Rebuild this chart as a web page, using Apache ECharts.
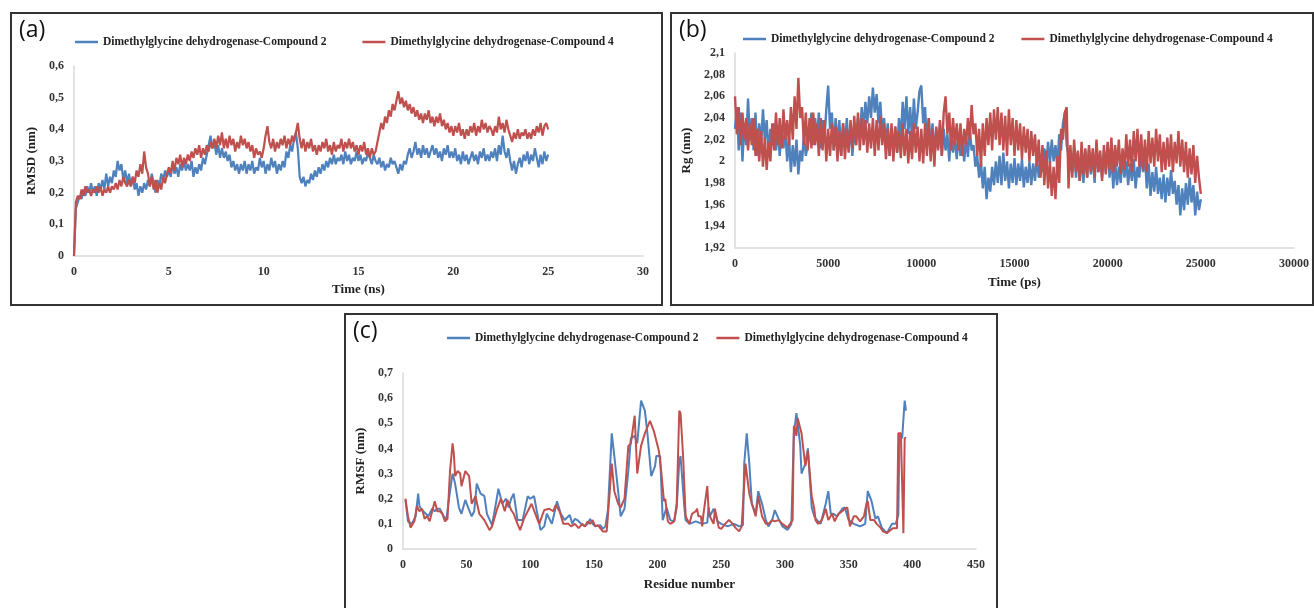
<!DOCTYPE html>
<html>
<head>
<meta charset="utf-8">
<script src="https://cdn.jsdelivr.net/npm/echarts@6/dist/echarts.min.js"></script>
<style>
body{margin:0;background:#fff;overflow:hidden;}
.panel{position:absolute;border:2px solid #333;box-sizing:border-box;background:#fff;}
#pa{left:10px;top:12px;width:653px;height:294px;}
#pb{left:670px;top:12px;width:644px;height:294px;}
#pc{left:344px;top:313px;width:654px;height:300px;}
</style>
</head>
<body>
<div id="pa" class="panel"></div>
<div id="pb" class="panel"></div>
<div id="pc" class="panel"></div>
<script>
var NAME2 = 'Dimethylglycine dehydrogenase-Compound 2';
var NAME4 = 'Dimethylglycine dehydrogenase-Compound 4';
var BLUE = '#4F81BD', RED = '#C0504D';

// (a) RMSD, one value every 0.1 ns from 0 to 25 ns
var rmsd2 = [
  0, 0.15, 0.17, 0.19, 0.18, 0.21, 0.19, 0.22, 0.20, 0.23,
  0.20, 0.22, 0.19, 0.23, 0.21, 0.24, 0.21, 0.26, 0.22, 0.25,
  0.23, 0.27, 0.25, 0.30, 0.27, 0.29, 0.24, 0.27, 0.23, 0.26,
  0.22, 0.25, 0.21, 0.23, 0.19, 0.22, 0.20, 0.23, 0.21, 0.24,
  0.22, 0.26, 0.23, 0.20, 0.24, 0.22, 0.26, 0.24, 0.27, 0.25,
  0.27, 0.25, 0.29, 0.26, 0.28, 0.25, 0.29, 0.27, 0.30, 0.27,
  0.29, 0.27, 0.30, 0.25, 0.28, 0.26, 0.29, 0.27, 0.31, 0.29,
  0.32, 0.35, 0.38, 0.34, 0.36, 0.32, 0.35, 0.31, 0.34, 0.31,
  0.33, 0.30, 0.32, 0.28, 0.30, 0.27, 0.29, 0.26, 0.29, 0.27,
  0.30, 0.26, 0.29, 0.27, 0.30, 0.26, 0.28, 0.27, 0.31, 0.28,
  0.30, 0.26, 0.29, 0.27, 0.31, 0.28, 0.30, 0.26, 0.29, 0.27,
  0.30, 0.28, 0.33, 0.31, 0.35, 0.33, 0.37, 0.39, 0.34, 0.25,
  0.23, 0.25, 0.22, 0.24, 0.23, 0.26, 0.24, 0.27, 0.25, 0.28,
  0.26, 0.29, 0.27, 0.30, 0.28, 0.31, 0.29, 0.32, 0.29, 0.31,
  0.30, 0.32, 0.29, 0.33, 0.30, 0.32, 0.29, 0.31, 0.30, 0.33,
  0.30, 0.32, 0.29, 0.31, 0.30, 0.33, 0.31, 0.29, 0.32, 0.30,
  0.29, 0.31, 0.28, 0.30, 0.27, 0.29, 0.28, 0.31, 0.29, 0.30,
  0.28, 0.26, 0.29, 0.27, 0.30, 0.29, 0.32, 0.34, 0.31, 0.33,
  0.36, 0.32, 0.34, 0.31, 0.35, 0.32, 0.34, 0.31, 0.33, 0.35,
  0.32, 0.34, 0.31, 0.33, 0.30, 0.34, 0.32, 0.35, 0.31, 0.33,
  0.31, 0.34, 0.30, 0.32, 0.29, 0.33, 0.30, 0.32, 0.29, 0.31,
  0.33, 0.30, 0.32, 0.29, 0.33, 0.31, 0.34, 0.30, 0.32, 0.30,
  0.33, 0.31, 0.34, 0.30, 0.35, 0.32, 0.38, 0.33, 0.31, 0.34,
  0.30, 0.27, 0.30, 0.26, 0.29, 0.31, 0.28, 0.32, 0.30, 0.33,
  0.29, 0.32, 0.30, 0.34, 0.31, 0.28, 0.32, 0.29, 0.33, 0.30,
  0.32
];
var rmsd4 = [
  0, 0.17, 0.19, 0.18, 0.21, 0.19, 0.22, 0.20, 0.21, 0.19,
  0.21, 0.20, 0.22, 0.20, 0.22, 0.19, 0.21, 0.20, 0.22, 0.20,
  0.22, 0.21, 0.23, 0.21, 0.24, 0.22, 0.25, 0.23, 0.22, 0.24,
  0.22, 0.25, 0.23, 0.27, 0.25, 0.29, 0.26, 0.33, 0.28, 0.26,
  0.22, 0.25, 0.21, 0.24, 0.20, 0.23, 0.21, 0.25, 0.23, 0.26,
  0.28, 0.26, 0.30, 0.27, 0.31, 0.29, 0.32, 0.28, 0.31, 0.29,
  0.32, 0.30, 0.33, 0.31, 0.34, 0.32, 0.35, 0.31, 0.34, 0.32,
  0.35, 0.33, 0.36, 0.34, 0.37, 0.34, 0.38, 0.35, 0.39, 0.34,
  0.37, 0.34, 0.38, 0.35, 0.37, 0.33, 0.36, 0.34, 0.38, 0.35,
  0.37, 0.34, 0.36, 0.33, 0.35, 0.31, 0.34, 0.32, 0.33, 0.31,
  0.34, 0.38, 0.41, 0.36, 0.34, 0.37, 0.33, 0.36, 0.34, 0.37,
  0.35, 0.38, 0.34, 0.37, 0.35, 0.38, 0.36, 0.39, 0.42, 0.37,
  0.34, 0.37, 0.33, 0.36, 0.34, 0.37, 0.33, 0.35, 0.32, 0.35,
  0.33, 0.36, 0.34, 0.37, 0.33, 0.35, 0.32, 0.36, 0.33, 0.35,
  0.34, 0.37, 0.33, 0.36, 0.34, 0.37, 0.34, 0.36, 0.33, 0.35,
  0.32, 0.35, 0.33, 0.36, 0.32, 0.34, 0.31, 0.34, 0.32, 0.33,
  0.36, 0.39, 0.42, 0.40, 0.44, 0.42, 0.46, 0.44, 0.48, 0.46,
  0.49, 0.52, 0.48, 0.50, 0.47, 0.49, 0.46, 0.48, 0.45, 0.47,
  0.44, 0.46, 0.43, 0.45, 0.42, 0.45, 0.43, 0.46, 0.42, 0.44,
  0.41, 0.44, 0.42, 0.45, 0.41, 0.43, 0.40, 0.42, 0.39, 0.41,
  0.38, 0.41, 0.39, 0.42, 0.38, 0.40, 0.37, 0.40, 0.38, 0.41,
  0.39, 0.42, 0.38, 0.41, 0.39, 0.43, 0.40, 0.42, 0.39, 0.41,
  0.40, 0.38, 0.41, 0.39, 0.44, 0.40, 0.42, 0.39, 0.43, 0.40,
  0.38, 0.36, 0.39, 0.37, 0.40, 0.37, 0.39, 0.38, 0.40, 0.37,
  0.39, 0.37, 0.40, 0.38, 0.41, 0.39, 0.42, 0.38, 0.41, 0.42,
  0.40
];

// (b) Rg, one value every 100 ps from 0 to 25000 ps
var rg2 = [
  2.030, 2.050, 2.010, 2.045, 2.000, 2.035, 2.015, 2.058, 2.020, 2.040,
  2.010, 2.045, 2.005, 2.035, 2.015, 2.048, 2.020, 2.038, 2.005, 2.030,
  2.015, 2.035, 2.010, 2.030, 2.005, 2.032, 2.012, 2.028, 2.000, 2.022,
  1.990, 2.015, 1.995, 2.020, 1.988, 2.010, 2.000, 2.025, 2.005, 2.015,
  2.025, 2.045, 2.015, 2.040, 2.020, 2.045, 2.012, 2.038, 2.020, 2.048,
  2.070, 2.030, 2.045, 2.010, 2.040, 2.015, 2.038, 2.005, 2.035, 2.012,
  2.040, 2.010, 2.035, 2.005, 2.030, 2.015, 2.040, 2.020, 2.050, 2.030,
  2.055, 2.035, 2.060, 2.040, 2.068, 2.045, 2.062, 2.035, 2.055, 2.025,
  2.040, 2.015, 2.035, 2.005, 2.030, 2.010, 2.032, 2.008, 2.040, 2.020,
  2.055, 2.030, 2.060, 2.025, 2.050, 2.020, 2.058, 2.030, 2.045, 2.065,
  2.070, 2.035, 2.050, 2.015, 2.040, 2.010, 2.035, 2.005, 2.030, 2.012,
  2.035, 2.005, 2.030, 2.010, 2.025, 2.000, 2.028, 2.008, 2.022, 2.002,
  2.025, 2.005, 2.020, 2.000, 2.022, 2.004, 2.030, 2.010, 2.015, 1.995,
  2.005, 1.985, 2.000, 1.975, 1.995, 1.965, 1.985, 1.972, 1.995, 1.978,
  2.000, 1.980, 2.005, 1.978, 2.008, 1.982, 2.000, 1.975, 1.998, 1.980,
  2.003, 1.978, 1.998, 1.982, 2.002, 1.976, 1.995, 1.980, 2.000, 1.978,
  1.998, 1.982, 2.004, 1.985, 2.000, 1.990, 2.012, 1.995, 2.018, 1.998,
  2.020, 2.000, 2.015, 1.995, 2.025, 2.010, 2.035, 2.045, 2.015, 2.005,
  2.010, 1.990, 2.012, 1.985, 2.008, 1.982, 2.005, 1.980, 2.010, 1.985,
  2.012, 1.988, 2.008, 1.980, 2.015, 1.990, 2.005, 1.985, 2.010, 1.990,
  2.015, 1.985, 2.005, 1.975, 2.000, 1.978, 1.995, 1.980, 2.005, 1.985,
  2.000, 1.978, 1.998, 1.982, 2.002, 1.975, 1.995, 1.985, 2.010, 1.990,
  2.005, 1.975, 1.998, 1.968, 1.990, 1.972, 1.995, 1.970, 1.985, 1.965,
  1.988, 1.962, 1.985, 1.968, 1.992, 1.970, 1.982, 1.960, 1.978, 1.950,
  1.975, 1.955, 1.980, 1.960, 1.985, 1.962, 1.978, 1.950, 1.972, 1.955,
  1.965
];
var rg4 = [
  2.060, 2.025, 2.050, 2.015, 2.045, 2.020, 2.040, 2.010, 2.035, 2.015,
  2.040, 2.005, 2.030, 2.000, 2.028, 1.995, 2.022, 1.992, 2.018, 2.000,
  2.035, 2.010, 2.045, 2.015, 2.040, 2.012, 2.048, 2.020, 2.038, 2.015,
  2.050, 2.020, 2.060, 2.030, 2.077, 2.040, 2.050, 2.015, 2.045, 2.010,
  2.040, 2.012, 2.045, 2.015, 2.035, 2.005, 2.040, 2.010, 2.038, 2.000,
  2.030, 2.005, 2.035, 2.010, 2.032, 2.000, 2.028, 2.005, 2.035, 2.002,
  2.030, 2.008, 2.038, 2.012, 2.042, 2.015, 2.045, 2.010, 2.040, 2.015,
  2.038, 2.008, 2.035, 2.012, 2.040, 2.005, 2.038, 2.010, 2.042, 2.015,
  2.035, 2.002, 2.030, 2.005, 2.035, 2.000, 2.032, 2.008, 2.028, 2.003,
  2.035, 2.005, 2.030, 1.998, 2.028, 2.002, 2.035, 2.008, 2.032, 2.000,
  2.030, 1.998, 2.035, 2.005, 2.040, 2.000, 2.030, 1.995, 2.032, 2.010,
  2.038, 2.005, 2.045, 2.060, 2.025, 2.045, 2.010, 2.040, 2.015, 2.035,
  2.010, 2.035, 2.005, 2.030, 2.015, 2.040, 2.020, 2.052, 2.025, 2.035,
  2.005, 2.030, 1.995, 2.035, 2.005, 2.040, 2.015, 2.045, 2.010, 2.048,
  2.020, 2.050, 2.015, 2.045, 2.010, 2.042, 2.005, 2.048, 2.015, 2.040,
  2.005, 2.038, 2.010, 2.035, 2.002, 2.032, 2.008, 2.030, 2.000, 2.028,
  2.005, 2.025, 1.995, 2.020, 1.985, 2.015, 1.978, 2.010, 1.975, 2.000,
  1.968, 1.995, 1.965, 2.005, 1.980, 2.030, 2.020, 2.045, 2.050, 1.975,
  2.015, 1.985, 2.020, 1.990, 2.010, 1.982, 2.018, 1.988, 2.012, 1.985,
  2.015, 1.990, 2.012, 1.985, 2.020, 1.990, 2.010, 1.982, 2.015, 1.988,
  2.018, 1.992, 2.022, 1.990, 2.015, 1.995, 2.020, 1.988, 2.012, 1.992,
  2.025, 1.995, 2.020, 1.990, 2.028, 2.000, 2.030, 1.995, 2.025, 1.992,
  2.020, 1.990, 2.028, 1.998, 2.022, 1.995, 2.030, 2.000, 2.025, 1.990,
  2.018, 1.992, 2.022, 1.995, 2.025, 1.990, 2.018, 1.998, 2.028, 1.995,
  2.020, 1.990, 2.018, 1.985, 2.012, 1.988, 2.015, 1.980, 2.005, 1.985,
  1.970
];

// (c) RMSF per residue
var res2 = [2,4,7,10,12,13,15,18,20,23,25,27,29,32,34,37,39,41,44,46,49,52,54,56,58,61,64,66,70,73,75,78,81,83,85,87,90,94,98,100,103,105,108,111,113,117,121,124,127,131,133,135,137,140,143,145,147,149,151,155,157,159,161,164,166,169,171,174,177,179,182,184,187,190,192,195,198,199,202,204,207,210,213,215,217,218,221,222,225,230,235,239,240,241,244,247,250,255,260,264,267,268,270,272,274,277,279,282,285,287,290,292,295,298,302,305,307,309,310,312,313,316,318,321,323,325,328,332,334,336,338,341,345,347,350,354,359,363,365,368,371,373,376,380,384,387,389,390,392,394,395];
var rmsf2 = [0.195,0.11,0.10,0.13,0.22,0.17,0.155,0.14,0.13,0.16,0.15,0.16,0.16,0.13,0.115,0.23,0.30,0.26,0.165,0.14,0.195,0.155,0.13,0.15,0.26,0.22,0.21,0.14,0.095,0.18,0.24,0.18,0.20,0.165,0.20,0.22,0.115,0.115,0.21,0.20,0.21,0.155,0.076,0.09,0.14,0.10,0.19,0.14,0.115,0.135,0.10,0.12,0.115,0.10,0.09,0.10,0.12,0.10,0.09,0.095,0.08,0.09,0.155,0.46,0.37,0.23,0.13,0.16,0.31,0.44,0.45,0.42,0.59,0.55,0.46,0.29,0.33,0.37,0.37,0.115,0.165,0.115,0.11,0.165,0.35,0.37,0.165,0.115,0.10,0.11,0.10,0.105,0.165,0.13,0.16,0.11,0.10,0.09,0.10,0.09,0.095,0.34,0.46,0.34,0.18,0.14,0.23,0.18,0.115,0.09,0.115,0.155,0.12,0.09,0.076,0.10,0.46,0.54,0.50,0.41,0.30,0.34,0.40,0.165,0.13,0.115,0.10,0.18,0.23,0.14,0.14,0.13,0.16,0.165,0.115,0.10,0.09,0.10,0.23,0.19,0.12,0.13,0.085,0.063,0.10,0.10,0.135,0.46,0.44,0.59,0.55];
var res4 = [2,4,6,7,9,11,13,15,17,19,21,23,25,27,29,31,33,35,37,39,40,41,43,45,46,49,52,54,57,60,64,68,70,74,77,80,82,85,87,90,92,95,99,101,104,107,111,115,118,120,123,126,130,132,135,138,141,143,145,147,149,151,153,157,160,162,164,166,169,171,174,177,179,182,184,187,190,194,197,201,203,205,206,208,210,213,215,217,218,220,222,225,227,230,231,232,234,235,236,239,240,241,244,245,248,250,253,256,259,261,264,266,269,272,274,277,279,282,285,287,290,292,295,298,302,306,307,308,309,310,313,316,318,321,323,324,326,329,332,334,337,339,342,345,347,349,351,354,356,359,362,364,365,367,370,372,375,377,380,383,385,388,389,391,393,394,395];
var rmsf4 = [0.20,0.13,0.085,0.08,0.11,0.17,0.15,0.16,0.12,0.13,0.11,0.15,0.19,0.15,0.15,0.14,0.11,0.12,0.31,0.42,0.38,0.29,0.31,0.30,0.25,0.31,0.29,0.18,0.21,0.14,0.115,0.075,0.09,0.16,0.20,0.15,0.195,0.155,0.14,0.10,0.075,0.12,0.16,0.18,0.14,0.10,0.155,0.16,0.15,0.175,0.15,0.10,0.10,0.09,0.10,0.083,0.10,0.09,0.11,0.10,0.115,0.09,0.095,0.07,0.07,0.20,0.34,0.23,0.18,0.165,0.20,0.41,0.42,0.53,0.30,0.41,0.46,0.51,0.47,0.39,0.30,0.19,0.20,0.11,0.10,0.11,0.18,0.55,0.54,0.37,0.13,0.10,0.14,0.15,0.16,0.13,0.13,0.09,0.14,0.25,0.16,0.13,0.10,0.16,0.085,0.08,0.10,0.115,0.10,0.085,0.07,0.09,0.34,0.22,0.18,0.13,0.21,0.13,0.10,0.10,0.115,0.11,0.115,0.10,0.085,0.115,0.49,0.475,0.45,0.52,0.46,0.33,0.39,0.21,0.16,0.115,0.10,0.115,0.16,0.115,0.14,0.11,0.14,0.15,0.16,0.165,0.09,0.13,0.13,0.11,0.13,0.18,0.19,0.115,0.115,0.10,0.085,0.07,0.063,0.076,0.083,0.083,0.46,0.46,0.063,0.44,0.445];

var SERIF = 'Liberation Serif';

function pairs(xs, ys) {
  return ys.map(function (y, i) { return [xs[i], y]; });
}
function steps(n, dt) {
  var out = [];
  for (var i = 0; i < n; i++) out.push(+(i * dt).toFixed(3));
  return out;
}
function comma(v) {
  return String(+v.toFixed(2)).replace('.', ',');
}

function axisX(name, max, interval, gap) {
  return {
    type: 'value', min: 0, max: max, interval: interval,
    name: name, nameLocation: 'middle', nameGap: gap,
    nameTextStyle: {fontFamily: SERIF, fontWeight: 'bold', fontSize: 13, color: '#222'},
    axisLine: {show: true, lineStyle: {color: '#d9d9d9', width: 1.5}},
    axisTick: {show: false},
    splitLine: {show: false},
    axisLabel: {fontFamily: SERIF, fontWeight: 'bold', fontSize: 12, color: '#333', margin: 10,
      formatter: function (v) { return String(v); }}
  };
}
function axisY(name, min, max, interval, gap) {
  return {
    type: 'value', min: min, max: max, interval: interval,
    name: name, nameLocation: 'middle', nameGap: gap,
    nameTextStyle: {fontFamily: SERIF, fontWeight: 'bold', fontSize: 13, color: '#222'},
    axisLine: {show: true, lineStyle: {color: '#d9d9d9', width: 1.5}},
    axisTick: {show: false},
    splitLine: {show: false},
    axisLabel: {fontFamily: SERIF, fontWeight: 'bold', fontSize: 12, color: '#333', margin: 10, formatter: comma}
  };
}

function drawPanel(id, tag, grid, legendLeft, legendTop, legendGap, xAxis, yAxis, d2, d4, width) {
  var chart = echarts.init(document.getElementById(id));
  chart.setOption({
    animation: false,
    title: {
      text: tag, left: 2, top: 0,
      textStyle: {fontFamily: 'Open Sans', fontWeight: 'normal', fontSize: 23, color: '#111'}
    },
    legend: {
      left: legendLeft, top: legendTop, padding: 0, width: 600,
      icon: 'rect', itemWidth: 23, itemHeight: 2.5, itemGap: legendGap,
      textStyle: {fontFamily: SERIF, fontWeight: 'bold', fontSize: 11.5, color: '#222'},
      data: [NAME2, NAME4]
    },
    grid: grid,
    xAxis: xAxis,
    yAxis: yAxis,
    series: [
      {name: NAME2, type: 'line', data: d2, symbol: 'none', lineStyle: {color: BLUE, width: width}, itemStyle: {color: BLUE}},
      {name: NAME4, type: 'line', data: d4, symbol: 'none', lineStyle: {color: RED, width: width}, itemStyle: {color: RED}}
    ]
  });
}

var tNs = steps(rmsd2.length, 0.1);
var tPs = steps(rg2.length, 100);

drawPanel('pa', '(a)', {left: 62, right: 18, top: 52, bottom: 48}, 63, 22, 36,
  axisX('Time (ns)', 30, 5, 24), axisY('RMSD (nm)', 0, 0.6, 0.1, 20),
  pairs(tNs, rmsd2), pairs(tNs, rmsd4), 2.2);

drawPanel('pb', '(b)', {left: 63, right: 15, top: 39, bottom: 56}, 71, 19, 27,
  axisX('Time (ps)', 30000, 5000, 28), axisY('Rg (nm)', 1.92, 2.1, 0.02, 38),
  pairs(tPs, rg2), pairs(tPs, rg4), 2.4);

drawPanel('pc', '(c)', {left: 55, right: 20, top: 58, bottom: 62}, 101, 17, 18,
  axisX('Residue number', 450, 50, 29), axisY('RMSF (nm)', 0, 0.7, 0.1, 22),
  pairs(res2, rmsf2), pairs(res4, rmsf4), 2);
</script>
</body>
</html>
